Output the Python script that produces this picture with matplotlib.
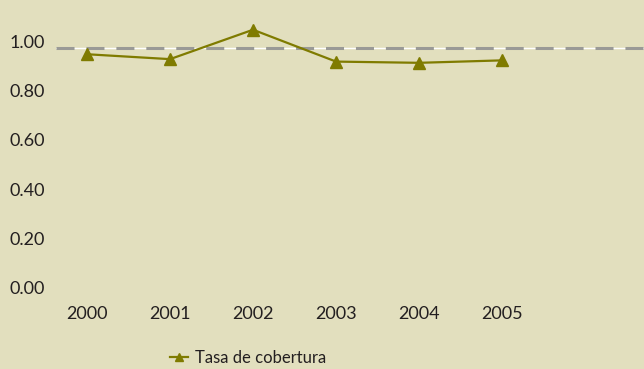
import matplotlib
matplotlib.use("Agg")
import matplotlib.pyplot as plt

# Tasa de cobertura por año
years = ["2000", "2001", "2002", "2003", "2004", "2005"]
tasa = [0.95, 0.93, 1.05, 0.92, 0.915, 0.925]
referencia = 0.975
yticks = [0.0, 0.2, 0.4, 0.6, 0.8, 1.0]

bg = "#e2dfbe"
olive = "#7f7b00"
txt = "#231f20"

plt.rcParams["font.family"] = ["Lato", "DejaVu Sans"]

fig = plt.figure(figsize=(6.44, 3.69), dpi=100, facecolor=bg)
ax = fig.add_axes([0.087, 0.2222, 0.913, 0.7304])
ax.set_facecolor(bg)

x = list(range(len(years)))

# reference line: thin white under a grey dashed stroke
ax.axhline(referencia, color="white", lw=1.0, zorder=1)
ax.axhline(referencia, color="#9a9a96", lw=2.2,
           linestyle=(0, (5.9, 3.9)), zorder=2)

ax.plot(x, tasa, color=olive, lw=1.6, marker="^", markersize=8,
        markerfacecolor=olive, markeredgecolor=olive, zorder=3,
        label="Tasa de cobertura")

ax.set_xlim(-0.373, 6.71)
ax.set_ylim(0, 1.1)
ax.set_yticks(yticks)
ax.set_yticklabels([f"{v:.2f}" for v in yticks])
ax.set_xticks(x)
ax.set_xticklabels(years)
ax.tick_params(axis="both", length=0, labelsize=13, colors=txt)
ax.tick_params(axis="y", pad=8)
ax.tick_params(axis="x", pad=14)
for s in ax.spines.values():
    s.set_visible(False)

leg = fig.legend(loc="center", bbox_to_anchor=(0.385, 0.03), frameon=False,
                 fontsize=12, handlelength=1.1, handletextpad=0.4,
                 markerscale=0.75)
for t in leg.get_texts():
    t.set_color(txt)

fig.savefig("out.png", dpi=100, facecolor=bg)
